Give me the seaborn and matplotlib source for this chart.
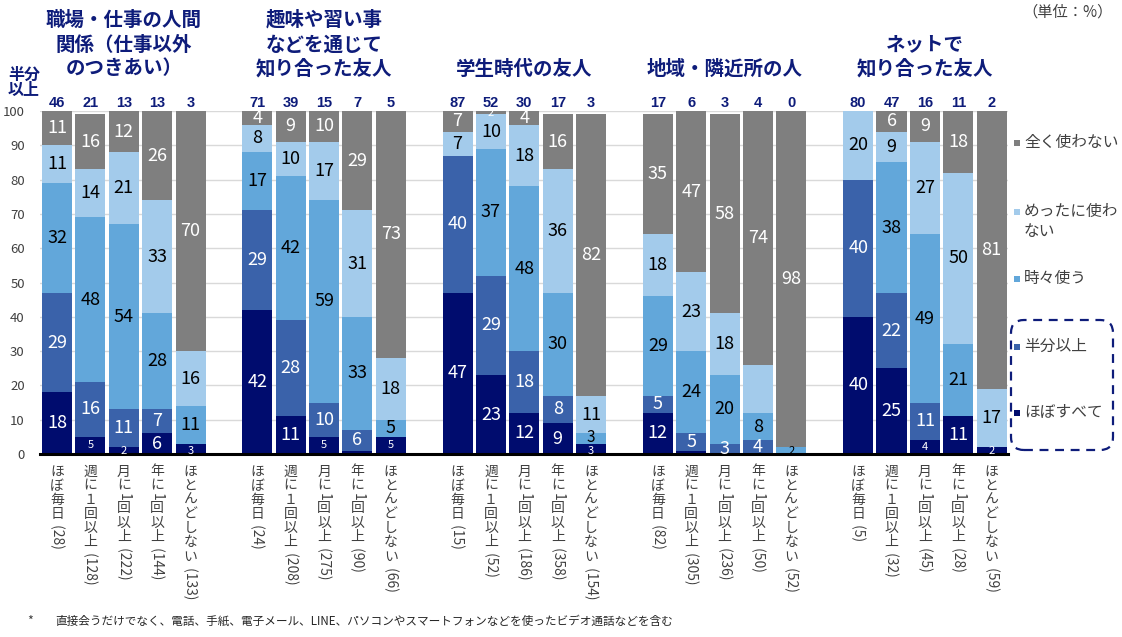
import numpy as np
import pandas as pd
import matplotlib
matplotlib.use("Agg")
import matplotlib.pyplot as plt
import seaborn as sns
from matplotlib.patches import FancyBboxPatch, Rectangle

# ---------------- data ----------------
title_lines = [
    ["職場・仕事の人間", "関係（仕事以外", "のつきあい）"],
    ["趣味や習い事", "などを通じて", "知り合った友人"],
    ["学生時代の友人"],
    ["地域・隣近所の人"],
    ["ネットで", "知り合った友人"],
]
freq_labels = ["ほぼ毎日", "週に１回以上", "月に1回以上", "年に1回以上", "ほとんどしない"]
counts = [
    [28, 128, 222, 144, 133],
    [24, 208, 275, 90, 66],
    [15, 52, 186, 358, 154],
    [82, 305, 236, 50, 52],
    [5, 32, 45, 28, 59],
]
series_names = ["ほぼすべて", "半分以上", "時々使う", "めったに使わない", "全く使わない"]
v_all = [[18, 5, 2, 6, 3], [42, 11, 5, 1, 5], [47, 23, 12, 9, 3], [12, 1, 0, 0, 0], [40, 25, 4, 11, 2]]
v_half = [[29, 16, 11, 7, 0], [29, 28, 10, 6, 0], [40, 29, 18, 8, 0], [5, 5, 3, 4, 0], [40, 22, 11, 0, 0]]
v_some = [[32, 48, 54, 28, 11], [17, 42, 59, 33, 5], [0, 37, 48, 30, 3], [29, 24, 20, 8, 2], [0, 38, 49, 21, 0]]
v_rare = [[11, 14, 21, 33, 16], [8, 10, 17, 31, 18], [7, 10, 18, 36, 11], [18, 23, 18, 14, 0], [20, 9, 27, 50, 17]]
v_never = [[11, 16, 12, 26, 70], [4, 9, 10, 29, 73], [7, 2, 4, 16, 82], [35, 47, 58, 74, 98], [0, 6, 9, 18, 81]]
half_or_more = [[46, 21, 13, 13, 3], [71, 39, 15, 7, 5], [87, 52, 30, 17, 3], [17, 6, 3, 4, 0], [80, 47, 16, 11, 2]]
hidden_labels = [(3, 3, 3)]  # (group, freq, series) segments drawn without a label
yticks = list(range(0, 101, 10))

# ---------------- style ----------------
colors = ["#000C6E", "#3A62AA", "#62A7DA", "#A3CBEB", "#7F7F7F"]
label_colors = ["white", "white", "black", "black", "white"]
navy = "#0E1C7A"
txt = "#404040"

sns.set_theme(style="white")
plt.rcParams["font.family"] = ["Noto Sans CJK JP", "DejaVu Sans"]

W, H = 1122, 637
fig = plt.figure(figsize=(W / 100, H / 100), dpi=100)
ax = fig.add_axes([40 / W, (H - 454) / H, 968 / W, 343 / H])

# build long table
series_vals = [v_all, v_half, v_some, v_rare, v_never]
rows = []
for g in range(5):
    for f in range(5):
        pos = g * 6 + f
        vals = [series_vals[s][g][f] for s in range(5)]
        cum = np.cumsum(vals)
        row = {"pos": pos, "group": g, "freq": f}
        for s in range(5):
            row[f"v{s}"] = vals[s]
            row[f"top{s}"] = cum[s]
        rows.append(row)
df = pd.DataFrame(rows)

# stacked bars: draw cumulative tops from the highest series down
for s in range(4, -1, -1):
    sns.barplot(data=df, x="pos", y=f"top{s}", native_scale=True, orient="x",
                color=colors[s], width=0.9, errorbar=None, ax=ax,
                linewidth=0, edgecolor="none", saturation=1)

ax.set_xlim(-0.51, 28.49)
ax.set_ylim(0, 100)
ax.set_yticks(yticks)
ax.set_yticklabels([str(t) for t in yticks], fontsize=9.5, color=txt)
ax.tick_params(axis="y", length=0, pad=11)
ax.set_xticks([])
ax.set_xlabel("")
ax.set_ylabel("")
ax.yaxis.grid(True, color="#D9D9D9", lw=1)
ax.set_axisbelow(True)
for side in ["left", "right", "top"]:
    ax.spines[side].set_visible(False)
ax.spines["bottom"].set_color("black")
ax.spines["bottom"].set_linewidth(2.2)

# segment labels
for _, r in df.iterrows():
    g, f, pos = int(r["group"]), int(r["freq"]), r["pos"]
    bottom = 0
    for s in range(5):
        v = r[f"v{s}"]
        top = bottom + v
        if v >= 2 and (g, f, s) not in hidden_labels:
            yc = (bottom + min(top, 100)) / 2
            small = v <= 2 or (s == 0 and v <= 5)
            size = 8 if small else 13
            if s == 0 and v <= 3:
                yc = 0.8
            if s == 2 and v <= 3 and bottom > 0:
                size = 11
                yc = bottom + 0.6 * v
            ax.text(pos, yc, str(int(v)), ha="center", va="center",
                    fontsize=size, color=label_colors[s])
        bottom = top

# header numbers (半分以上)
for g in range(5):
    for f in range(5):
        ax.text(g * 6 + f, 102.4, str(half_or_more[g][f]), ha="center", va="center",
                fontsize=10.5, fontweight="bold", color=navy,
                family=["Liberation Sans", "DejaVu Sans"], clip_on=False)

# vertical category labels
def vlabel(x, main, count, fs=10.0, pad=7.5):
    cur = pad
    kw = dict(xy=(x, 0), xycoords=("data", "axes fraction"), textcoords="offset points",
              ha="center", fontsize=fs, color=txt, annotation_clip=False)
    for ch in main:
        if ord(ch) < 128:
            adv = 0.62 * fs
            ax.annotate(ch, xytext=(0, -(cur + adv / 2)), va="center", rotation=-90, **kw)
        else:
            adv = 1.02 * fs
            ax.annotate(ch, xytext=(0, -(cur + adv / 2)), va="center", **kw)
        cur += adv
    ax.annotate(f" ({count})", xytext=(0, -cur), va="top", rotation=-90, **kw)

for g in range(5):
    for f in range(5):
        vlabel(g * 6 + f, freq_labels[f], counts[g][f])

# group titles
pitch = 968 / 29
line_y = {1: [69], 2: [45, 69], 3: [20, 45, 69]}
for g in range(5):
    cx = 40 + (g * 6 + 2 + 0.51) * pitch
    for line, py in zip(title_lines[g], line_y[len(title_lines[g])]):
        fig.text(cx / W, 1 - py / H, line, ha="center", va="center", fontsize=14,
                 fontweight="bold", color=navy)

# 半分以上 side label
fig.text(24 / W, 1 - 75 / H, "半分", ha="center", va="center", fontsize=11.5, fontweight="bold", color=navy)
fig.text(24 / W, 1 - 90 / H, "以上", ha="center", va="center", fontsize=11.5, fontweight="bold", color=navy)

# unit
fig.text(1113 / W, 1 - 12 / H, "（単位：%）", ha="right", va="center", fontsize=11, color=txt)

# legend (manual)
legend_y = [143, 212, 279, 347, 413]
legend_text = ["全く使わない", "めったに使わ\nない", "時々使う", "半分以上", "ほぼすべて"]
legend_cols = [colors[4], colors[3], colors[2], colors[1], colors[0]]
for ly, lt, lc in zip(legend_y, legend_text, legend_cols):
    fig.add_artist(Rectangle(((1014) / W, 1 - (ly + 3) / H), 6 / W, 6 / H,
                             transform=fig.transFigure, color=lc, lw=0))
    fig.text(1024 / W, 1 - (ly - 9) / H, lt, ha="left", va="top", fontsize=11.3,
             color=txt, linespacing=1.25)

box = FancyBboxPatch((1011 / 100, (H - 450) / 100), 102 / 100, 130 / 100,
                     boxstyle="round,pad=0,rounding_size=0.13",
                     transform=fig.dpi_scale_trans, fill=False, ec=navy, lw=1.6,
                     ls=(0, (4, 3)))
fig.add_artist(box)

# footnote
fig.text(30 / W, 1 - 621 / H, "*", ha="center", va="center", fontsize=9, color=txt)
fig.text(55 / W, 1 - 621 / H,
         "直接会うだけでなく、電話、手紙、電子メール、LINE、パソコンやスマートフォンなどを使ったビデオ通話などを含む",
         ha="left", va="center", fontsize=8.4, color="#262626")

fig.savefig("out.png", dpi=100)
